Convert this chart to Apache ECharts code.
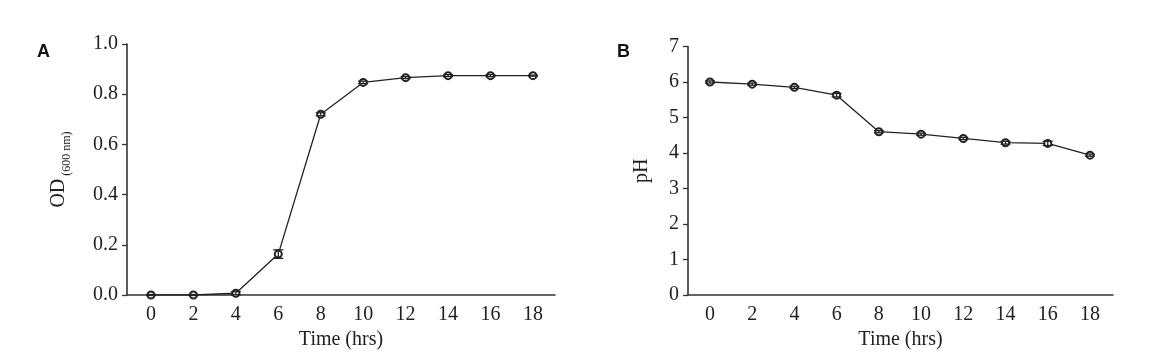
<!DOCTYPE html>
<html><head><meta charset="utf-8">
<script src="https://cdn.jsdelivr.net/npm/echarts@6/dist/echarts.min.js"></script>
<style>html,body{margin:0;padding:0;background:#fff}#c{width:1174px;height:356px}</style>
</head><body><div id="c"></div>
<script>
const hours = [0, 2, 4, 6, 8, 10, 12, 14, 16, 18];
const xTicks = [0, 2, 4, 6, 8, 10, 12, 14, 16, 18];
const odValues = [0.000, 0.000, 0.007, 0.163, 0.720, 0.847, 0.866, 0.874, 0.874, 0.874];
const odErrors = [0.002, 0.002, 0.006, 0.017, 0.006, 0.005, 0.004, 0.004, 0.004, 0.002];
const phValues = [6.00, 5.94, 5.85, 5.63, 4.60, 4.53, 4.41, 4.29, 4.27, 3.94];
const phErrors = [0.03, 0.03, 0.03, 0.05, 0.03, 0.03, 0.03, 0.04, 0.06, 0.03];

const FONT = 'Liberation Serif';
const ink = '#222';

function pts(vals){ return hours.map((h,i)=>[h, vals[i]]); }
function errData(vals, errs){ return hours.map((h,i)=>[h, vals[i]-errs[i], vals[i]+errs[i]]); }

function errSeries(idx, vals, errs){
  return {
    type: 'custom', xAxisIndex: idx, yAxisIndex: idx, z: 5,
    data: errData(vals, errs),
    renderItem: function(params, api){
      const x = api.value(0);
      const lo = api.coord([x, api.value(1)]);
      const hi = api.coord([x, api.value(2)]);
      const w = 5;
      const st = {stroke: ink, lineWidth: 1.3, fill: 'none'};
      return {type: 'group', children: [
        {type:'line', shape:{x1:lo[0], y1:lo[1], x2:hi[0], y2:hi[1]}, style: st},
        {type:'line', shape:{x1:lo[0]-w, y1:lo[1], x2:lo[0]+w, y2:lo[1]}, style: st},
        {type:'line', shape:{x1:hi[0]-w, y1:hi[1], x2:hi[0]+w, y2:hi[1]}, style: st}
      ]};
    }
  };
}

function lineSeries(idx, vals){
  return {
    type: 'line', xAxisIndex: idx, yAxisIndex: idx, z: 4,
    data: pts(vals),
    symbol: 'emptyCircle', symbolSize: 7,
    lineStyle: {color: ink, width: 1.3},
    itemStyle: {color: ink, borderColor: ink, borderWidth: 1.3},
    animation: false
  };
}

function xAx(idx, min, max){
  return {
    type: 'value', gridIndex: idx, min: min, max: max,
    name: 'Time (hrs)', nameLocation: 'middle', nameGap: 30,
    nameTextStyle: {fontFamily: FONT, fontSize: 20, color: ink},
    axisLine: {show: true, onZero: false, lineStyle: {color: '#333', width: 1.6}},
    axisTick: {show: false},
    splitLine: {show: false},
    axisLabel: {customValues: xTicks, fontFamily: FONT, fontSize: 20, color: ink, margin: 10}
  };
}

const option = {
  animation: false,
  backgroundColor: '#fff',
  grid: [
    {left: 127, top: 44, width: 428, height: 251},
    {left: 688, top: 46.5, width: 425, height: 248.5}
  ],
  xAxis: [ xAx(0, -1.13, 19.04), xAx(1, -1.04, 19.09) ],
  yAxis: [
    {
      type: 'value', gridIndex: 0, min: 0, max: 1.0, interval: 0.2,
      name: '{a|OD}{b| (600 nm)}', nameLocation: 'middle', nameGap: 58, nameRotate: 90,
      nameTextStyle: {rich: {
        a: {fontFamily: FONT, fontSize: 20, color: ink, verticalAlign: 'bottom', lineHeight: 24},
        b: {fontFamily: FONT, fontSize: 12, color: ink, verticalAlign: 'bottom', lineHeight: 24, padding: [0,0,-4,0]}
      }},
      axisLine: {show: true, onZero: false, lineStyle: {color: '#333', width: 1.6}},
      axisTick: {show: true, length: 5, lineStyle: {color: '#333', width: 1.3}},
      splitLine: {show: false},
      axisLabel: {fontFamily: FONT, fontSize: 20, color: ink, margin: 9, formatter: v => v.toFixed(1)}
    },
    {
      type: 'value', gridIndex: 1, min: 0, max: 7, interval: 1,
      name: 'pH', nameLocation: 'middle', nameGap: 36, nameRotate: 90,
      nameTextStyle: {fontFamily: FONT, fontSize: 20, color: ink},
      axisLine: {show: true, onZero: false, lineStyle: {color: '#333', width: 1.6}},
      axisTick: {show: true, length: 5, lineStyle: {color: '#333', width: 1.3}},
      splitLine: {show: false},
      axisLabel: {fontFamily: FONT, fontSize: 20, color: ink, margin: 9}
    }
  ],
  graphic: [
    {type: 'text', left: 37, top: 43, style: {text: 'A', font: 'bold 18px "Liberation Sans"', fill: '#111'}},
    {type: 'text', left: 617, top: 43, style: {text: 'B', font: 'bold 18px "Liberation Sans"', fill: '#111'}}
  ],
  series: [
    errSeries(0, odValues, odErrors),
    lineSeries(0, odValues),
    errSeries(1, phValues, phErrors),
    lineSeries(1, phValues)
  ]
};
const chart = echarts.init(document.getElementById('c'), null, {renderer: 'canvas'});
chart.setOption(option);
</script>
</body></html>
